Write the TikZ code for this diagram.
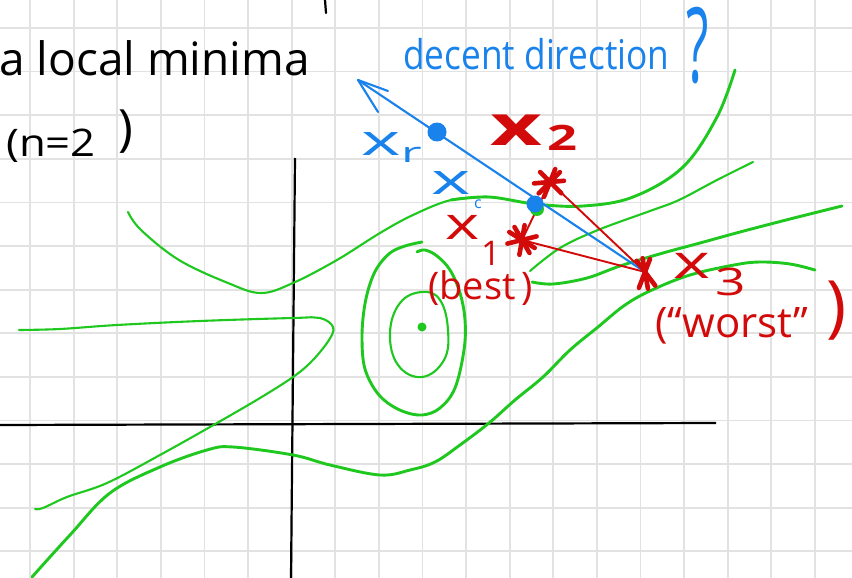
\documentclass[tikz,border=0pt]{standalone}
\usepackage{fontspec}
\setmainfont{Open Sans}
\definecolor{hred}{RGB}{210,10,10}
\definecolor{hblue}{RGB}{25,130,235}
\definecolor{lvlgreen}{RGB}{30,200,30}
\definecolor{gridgray}{RGB}{226,226,226}
\newcommand\fs[1]{\fontsize{#1}{#1}\selectfont}
\newcommand\hsc[2]{\scalebox{#1}[1]{#2}}
\begin{document}
\begin{tikzpicture}[x=1pt,y=-1pt,
  gridline/.style={draw=gridgray, line width=1.8pt},
  axis/.style={draw=black, line width=2.2pt},
  level/.style={draw=lvlgreen, line width=2.9pt, line cap=round, line join=round},
  levelthin/.style={level, line width=2.1pt},
  redline/.style={draw=hred, line width=1.9pt},
  blueline/.style={draw=hblue, line width=2.1pt, line cap=round, line join=round},
  starmark/.style={draw=hred, line width=4.6pt, line cap=round},
  lbl/.style={inner sep=0pt, anchor=base west}]
\useasboundingbox (0,0) rectangle (852,578);
\fill[white] (0,0) rectangle (852,578);
% grid
\foreach \i in {0,...,19} \draw[gridline] ({30+43.6*\i},0) -- ({30+43.6*\i},578);
\foreach \j in {0,...,12} \draw[gridline] (0,{28+43.6*\j}) -- (852,{28+43.6*\j});
% axes
\draw[axis] (295,158) -- (291,578);
\draw[axis] (0,425) -- (716,423);
% level curves
\draw[levelthin] plot[smooth, tension=0.6] coordinates {(128,212) (141,230) (179,260) (228,283) (261,293) (293,283) (337,260) (380,233) (413,215) (451,200) (489,197)};
\draw[level] plot[smooth, tension=0.6] coordinates {(451,200) (489,197) (535,204) (583,206) (633,197) (683,167) (717,117) (735,70)};
\draw[levelthin] plot[smooth, tension=0.6] coordinates {(530,271) (560,248) (598,230) (650,211) (679,200) (717,180) (753,162)};
\draw[level] plot[smooth, tension=0.6] coordinates {(532,282) (553,284) (587,278) (620,266) (663,253) (700,243) (740,232) (790,219) (842,206)};
\draw[level] plot[smooth, tension=0.6] coordinates {(32,577) (70,535) (110,493) (160,467) (207,450) (233,447) (293,455) (330,465) (380,475) (410,470) (435,462) (460,445) (489,423) (515,400) (543,377) (570,350) (598,327) (625,305) (652,290) (690,275) (734,265) (760,262) (790,264) (815,270)};
\draw[levelthin] plot[smooth, tension=0.6] coordinates {(35,509) (43,508) (67,497) (107,483) (160,455) (217,423) (260,398) (293,377) (312,361) (329,340) (333,327) (320,318) (293,318) (200,321) (117,325) (60,329) (19,330)};
\draw[level] plot[smooth, tension=0.6] coordinates {(422,242) (405,246) (390,253) (377,268) (369,287) (364,310) (362,337) (364,365) (372,385) (384,400) (402,411) (422,415) (440,408) (455,388) (464,350) (465,320) (460,293) (450,270) (437,256) (425,250) (417,252)};
\draw[levelthin] plot[smooth cycle, tension=0.7] coordinates {(422,292) (440,300) (448,330) (444,360) (422,377) (398,365) (390,333) (400,303)};
\fill[lvlgreen] (422,327) circle (4.5);
% points
\coordinate (x1) at (522,240);
\coordinate (x2) at (550,182);
\coordinate (x3) at (645,272);
\coordinate (tip) at (358,80);
\coordinate (barbA) at (388,91);
\coordinate (barbB) at (378,112);
% simplex
\draw[redline] (x1) -- (x2) -- (x3) -- cycle;
% direction
\draw[blueline] (x3) -- (tip);
\draw[blueline] (barbA) -- (tip) -- (barbB);
\node[circle, fill=lvlgreen, minimum size=14pt, inner sep=0pt] (xcg) at (537,209) {};
\node[circle, fill=hblue, minimum size=17pt, inner sep=0pt] (xc) at (535,204) {};
\node[circle, fill=hblue, minimum size=19pt, inner sep=0pt] (xr) at (437,132) {};
% star marks
\foreach \a in {32,100,166,60} \draw[starmark] ([shift={(\a:15)}]x1) -- ([shift={(\a+180:15)}]x1);
\foreach \a in {45,135,112,175} \draw[starmark] ([shift={(\a:16)}]x2) -- ([shift={(\a+180:14)}]x2);
\foreach \a in {53,111,80} \draw[starmark] ([shift={(\a:17)}]x3) -- ([shift={(\a+180:14)}]x3);
% texts
\draw[black, line width=2.2pt, line cap=round] (325,0) -- (326,13);
\node[lbl, text=black, font=\fs{46}] (title) at (-1,76) {a local minima};
\node[lbl, text=black, font=\fs{38}] (dimA) at (6,157) {\hsc{1.15}{(n=2}};
\node[lbl, text=black, font=\fs{50}] (dimB) at (118,145) {)};
\node[lbl, text=hblue, font=\fs{41}] (desc) at (403,70) {\hsc{0.86}{decent direction}};
\node[lbl, text=hblue, font=\fs{104}] (qm) at (686,82) {\hsc{0.5}{?}};
\node[lbl, text=hblue, font=\fs{43}] (xrl) at (361,155) {\hsc{1.75}{x}};
\node[lbl, text=hblue, font=\fs{28}] (xrs) at (401,162) {\hsc{1.8}{r}};
\node[lbl, text=hblue, font=\fs{43}] (xcl) at (431,194) {\hsc{1.75}{x}};
\node[lbl, text=hblue, font=\fs{16}] (xcs) at (474,208) {c};
\node[lbl, text=hred, font=\fs{45}] (x1l) at (445,239) {\hsc{1.45}{x}};
\node[lbl, text=hred, font=\fs{34}] (x1s) at (481,265) {1};
\node[lbl, text=hred, font=\fs{38}] (best) at (428,299) {(best\hspace{6pt})};
\node[lbl, text=hred, font=\fs{56}\bfseries] (x2l) at (490,145) {\hsc{1.6}{x}};
\node[lbl, text=hred, font=\fs{35}\bfseries] (x2s) at (547,150) {\hsc{1.5}{2}};
\node[lbl, text=hred, font=\fs{47}] (x3l) at (673,278) {\hsc{1.5}{x}};
\node[lbl, text=hred, font=\fs{38}] (x3s) at (715,295) {\hsc{1.4}{3}};
\node[lbl, text=hred, font=\fs{42}] (worst) at (655,337) {(“worst”};
\node[lbl, text=hred, font=\fs{68}] (wpar) at (826,329) {)};
\end{tikzpicture}
\end{document}
